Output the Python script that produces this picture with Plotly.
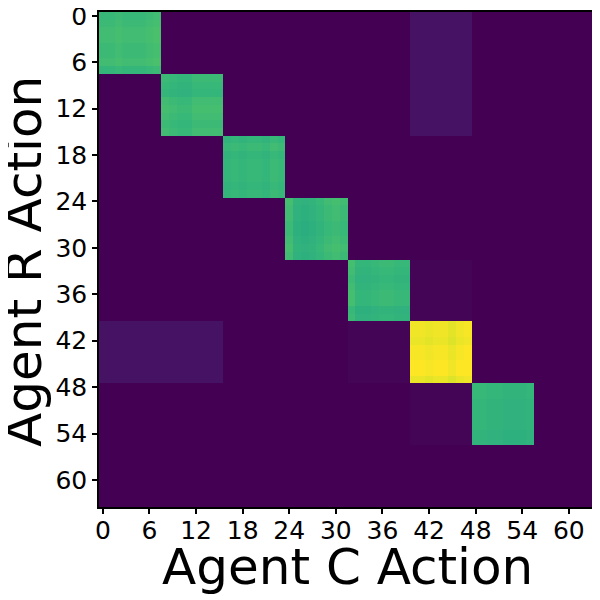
import numpy as np
import plotly.graph_objects as go

# actions 0..63, grouped in 8 blocks of 8 actions
n_actions = 64
block_size = 8
tick_vals = list(range(0, 61, 6))

# mean level of each 8x8 block (rows = Agent R block, cols = Agent C block)
block_level = [
    [0.67, 0.00, 0.00, 0.00, 0.00, 0.05, 0.00, 0.00],
    [0.00, 0.67, 0.00, 0.00, 0.00, 0.05, 0.00, 0.00],
    [0.00, 0.00, 0.66, 0.00, 0.00, 0.00, 0.00, 0.00],
    [0.00, 0.00, 0.00, 0.66, 0.00, 0.00, 0.00, 0.00],
    [0.00, 0.00, 0.00, 0.00, 0.66, 0.01, 0.00, 0.00],
    [0.05, 0.05, 0.00, 0.00, 0.01, 0.98, 0.00, 0.00],
    [0.00, 0.00, 0.00, 0.00, 0.00, 0.01, 0.65, 0.00],
    [0.00, 0.00, 0.00, 0.00, 0.00, 0.00, 0.00, 0.00],
]

# small row / column variations inside the diagonal blocks
row_var = [
    [0.00, 0.01, 0.02, 0.02, 0.01, 0.01, 0.02, -0.01],
    [0.00, -0.01, -0.02, 0.01, 0.02, 0.01, 0.00, 0.01],
    [-0.01, 0.01, -0.01, 0.00, 0.00, 0.00, -0.01, 0.00],
    [0.01, 0.00, 0.00, -0.01, -0.01, 0.00, 0.01, 0.00],
    [0.01, 0.00, -0.01, 0.00, 0.01, 0.01, -0.02, -0.01],
    [-0.01, -0.01, -0.02, 0.00, 0.00, 0.01, 0.01, -0.02],
    [0.01, 0.01, 0.00, 0.00, 0.00, 0.00, -0.01, -0.01],
    [0.00, 0.00, 0.00, 0.00, 0.00, 0.00, 0.00, 0.00],
]
col_var = [
    [0.00, 0.00, 0.01, 0.00, 0.00, 0.00, 0.01, 0.02],
    [0.01, 0.00, -0.01, -0.01, 0.01, 0.01, 0.01, 0.01],
    [0.00, 0.01, 0.00, 0.01, 0.01, 0.00, 0.02, 0.01],
    [0.03, -0.02, -0.03, -0.02, 0.00, 0.02, 0.03, 0.02],
    [0.03, -0.01, -0.01, 0.00, 0.01, 0.01, 0.00, 0.00],
    [0.01, 0.01, 0.00, 0.01, 0.01, -0.01, 0.01, 0.02],
    [0.01, 0.01, 0.00, 0.00, -0.01, -0.01, -0.01, 0.00],
    [0.00, 0.00, 0.00, 0.00, 0.00, 0.00, 0.00, 0.00],
]

z = np.kron(np.array(block_level), np.ones((block_size, block_size)))
for b in range(8):
    s = slice(b * block_size, (b + 1) * block_size)
    if block_level[b][b] > 0:
        z[s, s] += np.add.outer(row_var[b], col_var[b])
z = np.clip(z, 0, 1)

fig = go.Figure(
    go.Heatmap(
        z=z,
        x=list(range(n_actions)),
        y=list(range(n_actions)),
        colorscale="Viridis",
        zmin=0,
        zmax=1,
        showscale=False,
    )
)

axis_style = dict(
    tickvals=tick_vals,
    ticks="outside",
    ticklen=5,
    tickwidth=1.5,
    tickcolor="black",
    showline=True,
    linecolor="black",
    linewidth=1.5,
    mirror=True,
    showgrid=False,
    zeroline=False,
    automargin=False,
    ticklabeloverflow="allow",
    tickfont=dict(family="DejaVu Sans", size=25, color="black"),
)

fig.update_xaxes(axis_style, range=[-0.5, 63.5], ticklabelstandoff=-5)
fig.update_yaxes(axis_style, range=[63.5, -0.5])

title_font = dict(family="DejaVu Sans", size=50, color="black")
fig.add_annotation(
    text="Agent C Action", xref="paper", yref="paper", x=0.5, y=-0.121,
    xanchor="center", yanchor="middle", showarrow=False, font=title_font,
)
fig.add_annotation(
    text="Agent R Action", xref="paper", yref="paper", x=-0.151, y=0.497,
    xanchor="center", yanchor="middle", textangle=-90, showarrow=False, font=title_font,
)

# page body has an 8px margin, so the plot box is shifted back by that amount
fig.update_layout(
    width=600,
    height=600,
    margin=dict(l=91, r=12, t=4, b=101),
    paper_bgcolor="white",
    plot_bgcolor="white",
)

fig.write_html("out.html")
